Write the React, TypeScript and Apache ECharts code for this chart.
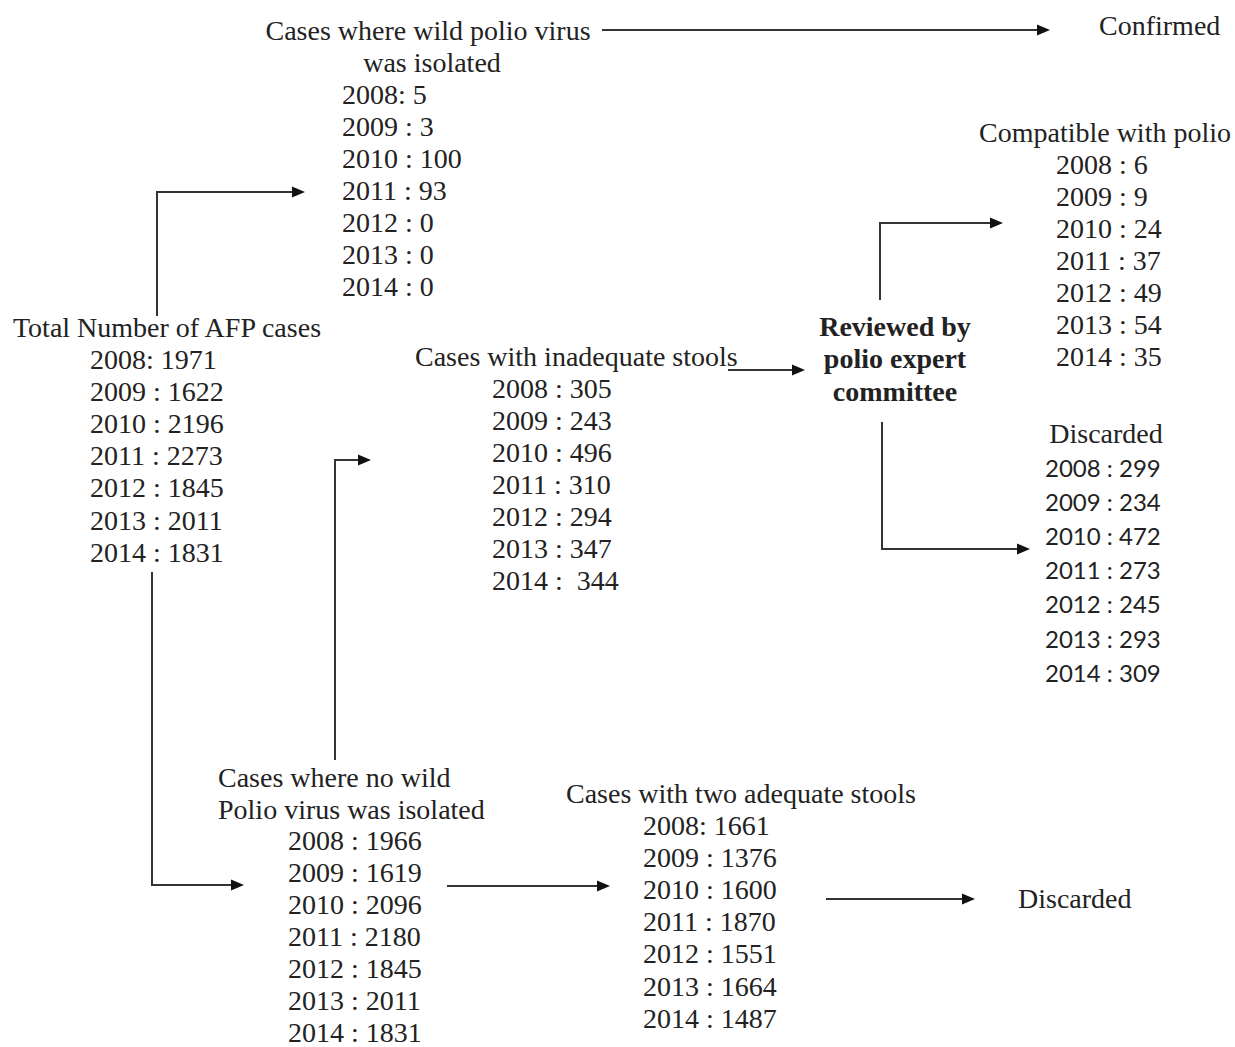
import React, { useEffect, useRef } from "react";
import * as echarts from "echarts";

const years = [2008, 2009, 2010, 2011, 2012, 2013, 2014];
const totalAFP = [1971, 1622, 2196, 2273, 1845, 2011, 1831];
const wildIsolated = [5, 3, 100, 93, 0, 0, 0];
const noWildIsolated = [1966, 1619, 2096, 2180, 1845, 2011, 1831];
const inadequateStools = [305, 243, 496, 310, 294, 347, 344];
const adequateStools = [1661, 1376, 1600, 1870, 1551, 1664, 1487];
const compatibleWithPolio = [6, 9, 24, 37, 49, 54, 35];
const discardedAfterReview = [299, 234, 472, 273, 245, 293, 309];

const SERIF = "'Liberation Serif', 'Times New Roman', serif";
const SANS = "Lato, 'Liberation Sans', sans-serif";
const INK = "#222";
const LINE = "#333";
const FS = 28;

type Block = {
  values: number[];
  x: number;
  y0: number;
  step: number;
  firstSep?: string;
  lastSep?: string;
  font?: string;
  size?: number;
};

function rows(b: Block): any[] {
  return b.values.map((v, i) => {
    let sep = " : ";
    if (i === 0 && b.firstSep) sep = b.firstSep;
    if (i === b.values.length - 1 && b.lastSep) sep = b.lastSep;
    return {
      type: "text",
      style: {
        text: `${years[i]}${sep}${v}`,
        x: b.x,
        y: b.y0 + i * b.step,
        font: `${b.size ?? FS}px ${b.font ?? SERIF}`,
        fill: INK,
        textAlign: "left",
        textVerticalAlign: "middle",
      },
    };
  });
}

function label(text: string, x: number, y: number, align = "center", bold = false, size = FS): any {
  return {
    type: "text",
    style: {
      text,
      x,
      y,
      font: `${bold ? "bold " : ""}${size}px ${SERIF}`,
      fill: INK,
      textAlign: align,
      textVerticalAlign: "middle",
    },
  };
}

function arrow(points: number[][]): any[] {
  const n = points.length;
  const [x1, y1] = points[n - 2];
  const [x2, y2] = points[n - 1];
  const len = Math.hypot(x2 - x1, y2 - y1);
  const ux = (x2 - x1) / len;
  const uy = (y2 - y1) / len;
  const hl = 13;
  const hw = 5.5;
  const bx = x2 - ux * hl;
  const by = y2 - uy * hl;
  const pts = points.slice(0, n - 1).concat([[bx, by]]);
  return [
    {
      type: "polyline",
      shape: { points: pts },
      style: { stroke: LINE, lineWidth: 2, fill: null },
    },
    {
      type: "polygon",
      shape: {
        points: [
          [x2, y2],
          [bx - uy * hw, by + ux * hw],
          [bx + uy * hw, by - ux * hw],
        ],
      },
      style: { fill: "#111" },
    },
  ];
}

export default function App() {
  const ref = useRef<HTMLDivElement>(null);
  useEffect(() => {
    document.body.style.margin = "0";
    const chart = echarts.init(ref.current!, null, { renderer: "svg" });
    const elements: any[] = [
      // Wild polio virus isolated
      label("Cases where wild polio virus", 428, 30),
      label("was isolated", 432, 62),
      ...rows({ values: wildIsolated, x: 342, y0: 94, step: 32, firstSep: ": " }),
      ...arrow([[602, 30], [1050, 30]]),
      label("Confirmed", 1099, 25, "left"),

      // Total AFP
      label("Total Number of AFP cases", 167, 327),
      ...rows({ values: totalAFP, x: 90, y0: 359, step: 32.2, firstSep: ": " }),
      ...arrow([[157, 316], [157, 192], [305, 192]]),
      ...arrow([[152, 572], [152, 885], [244, 885]]),

      // Inadequate stools
      label("Cases with inadequate stools", 415, 356, "left"),
      ...rows({ values: inadequateStools, x: 492, y0: 388, step: 32, lastSep: " :  " }),
      ...arrow([[728, 370], [805, 370]]),
      ...arrow([[335, 760], [335, 460], [371, 460]]),

      // Expert committee
      label("Reviewed by", 895, 326, "center", true),
      label("polio expert", 895, 358, "center", true),
      label("committee", 895, 391, "center", true),
      ...arrow([[880, 300], [880, 223], [1003, 223]]),
      ...arrow([[882, 422], [882, 549], [1030, 549]]),

      // Compatible with polio
      label("Compatible with polio", 979, 132, "left"),
      ...rows({ values: compatibleWithPolio, x: 1056, y0: 164, step: 32 }),

      // Discarded after review
      label("Discarded", 1106, 433),
      ...rows({ values: discardedAfterReview, x: 1045, y0: 467, step: 34.2, font: SANS, size: 24 }),

      // No wild virus
      label("Cases where no wild", 218, 777, "left"),
      label("Polio virus was isolated", 218, 809, "left"),
      ...rows({ values: noWildIsolated, x: 288, y0: 840, step: 32 }),
      ...arrow([[447, 886], [610, 886]]),

      // Adequate stools
      label("Cases with two adequate stools", 566, 793, "left"),
      ...rows({ values: adequateStools, x: 643, y0: 825, step: 32.2, firstSep: ": " }),
      ...arrow([[826, 899], [975, 899]]),
      label("Discarded", 1018, 898, "left"),
    ];
    chart.setOption({
      animation: false,
      backgroundColor: "#fff",
      graphic: { elements },
    });
    return () => chart.dispose();
  }, []);
  return <div ref={ref} style={{ width: 1235, height: 1047 }} />;
}
